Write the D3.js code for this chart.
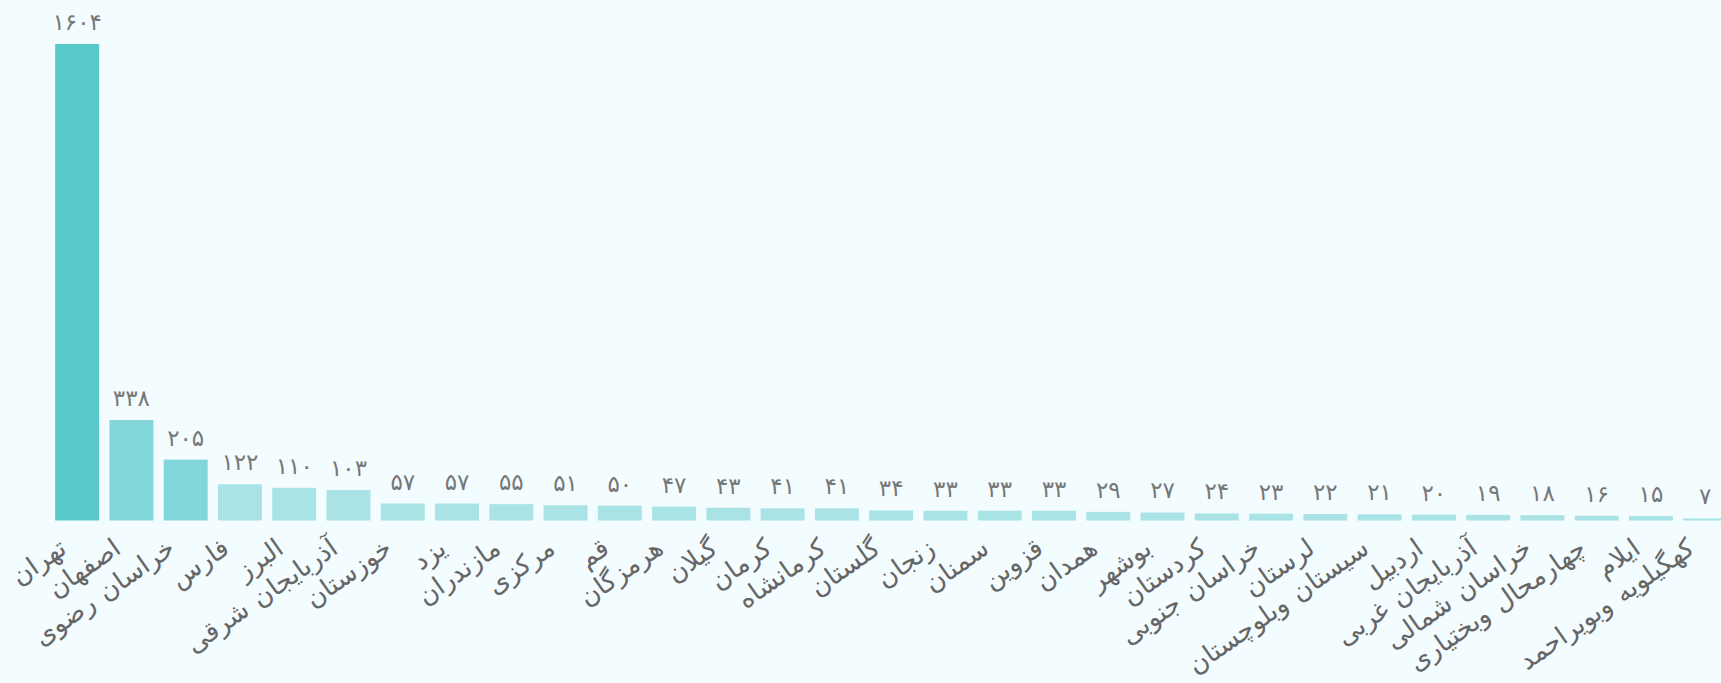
<!DOCTYPE html>
<html>
<head>
<meta charset="utf-8">
<script src="https://cdn.jsdelivr.net/npm/d3@7"></script>
<style>
  html, body { margin: 0; padding: 0; background: #F3FCFF; overflow: hidden; }
  svg { display: block; }
</style>
</head>
<body>
<div id="chart"></div>
<script>

// Provinces and counts
var provinces = ['تهران', 'اصفهان', 'خراسان رضوی', 'فارس', 'البرز', 'آذربایجان شرقی',
  'خوزستان', 'یزد', 'مازندران', 'مرکزی', 'قم', 'هرمزگان', 'گیلان', 'کرمان',
  'کرمانشاه', 'گلستان', 'زنجان', 'سمنان', 'قزوین', 'همدان', 'بوشهر', 'کردستان',
  'خراسان جنوبی', 'لرستان', 'سیستان وبلوچستان', 'اردبیل', 'آذربایجان غربی',
  'خراسان شمالی', 'چهارمحال وبختیاری', 'ایلام', 'کهگیلویه وبویراحمد'];

var counts = [1604, 338, 205, 122, 110, 103, 57, 57, 55, 51, 50, 47, 43, 41,
  41, 34, 33, 33, 33, 29, 27, 24, 23, 22, 21, 20, 19, 18, 16, 15, 7];

var colorSteps = [200, 1000];
var colorList = ['#AAE3E5', '#82D6DA', '#5AC9CC'];

var data = provinces.map(function(p, i) { return {name: p, value: counts[i]}; });

// Persian digits for labels
function toFa(n) {
  var fa = '۰۱۲۳۴۵۶۷۸۹';
  return String(n).replace(/[0-9]/g, function(d) { return fa[+d]; });
}

var width = 1721, height = 683;

var svg = d3.select('#chart')
  .append('svg')
    .attr('width', width)
    .attr('height', height);

svg.append('rect')
  .attr('width', width)
  .attr('height', height)
  .attr('fill', '#F3FCFF');

var x = d3.scaleBand()
  .domain(provinces)
  .range([50, 50 + provinces.length * 54.27])
  .paddingInner(0.19)
  .paddingOuter(0.095);

var y = d3.scaleLinear()
  .domain([0, d3.max(counts)])
  .range([520.5, 44]);

var color = d3.scaleThreshold()
  .domain(colorSteps)
  .range(colorList);

// Bars
svg.append('g').selectAll('rect')
  .data(data)
  .enter()
    .append('rect')
    .attr('x', function(d) { return x(d.name); })
    .attr('y', function(d) { return y(d.value); })
    .attr('width', x.bandwidth())
    .attr('height', function(d) { return y(0) - y(d.value); })
    .attr('fill', function(d) { return color(d.value); });

// Value labels above bars
svg.append('g').selectAll('text')
  .data(data)
  .enter()
    .append('text')
    .attr('x', function(d) { return x(d.name) + x.bandwidth() / 2; })
    .attr('y', function(d) { return y(d.value) - 14; })
    .attr('text-anchor', 'middle')
    .attr('font-family', 'DejaVu Sans, sans-serif')
    .attr('font-size', 23)
    .attr('fill', '#777')
    .text(function(d) { return toFa(d.value); });

// Rotated category labels
svg.append('g').selectAll('text')
  .data(data)
  .enter()
    .append('text')
    .attr('transform', function(d) {
      var cx = x(d.name) + x.bandwidth() / 2;
      return 'translate(' + (cx - 9) + ',' + 552 + ') rotate(-35)';
    })
    .attr('text-anchor', 'end')
    .attr('font-family', 'DejaVu Sans, sans-serif')
    .attr('font-size', 26)
    .attr('word-spacing', 2)
    .attr('fill', '#666')
    .text(function(d) { return d.name; });

</script>
</body>
</html>
